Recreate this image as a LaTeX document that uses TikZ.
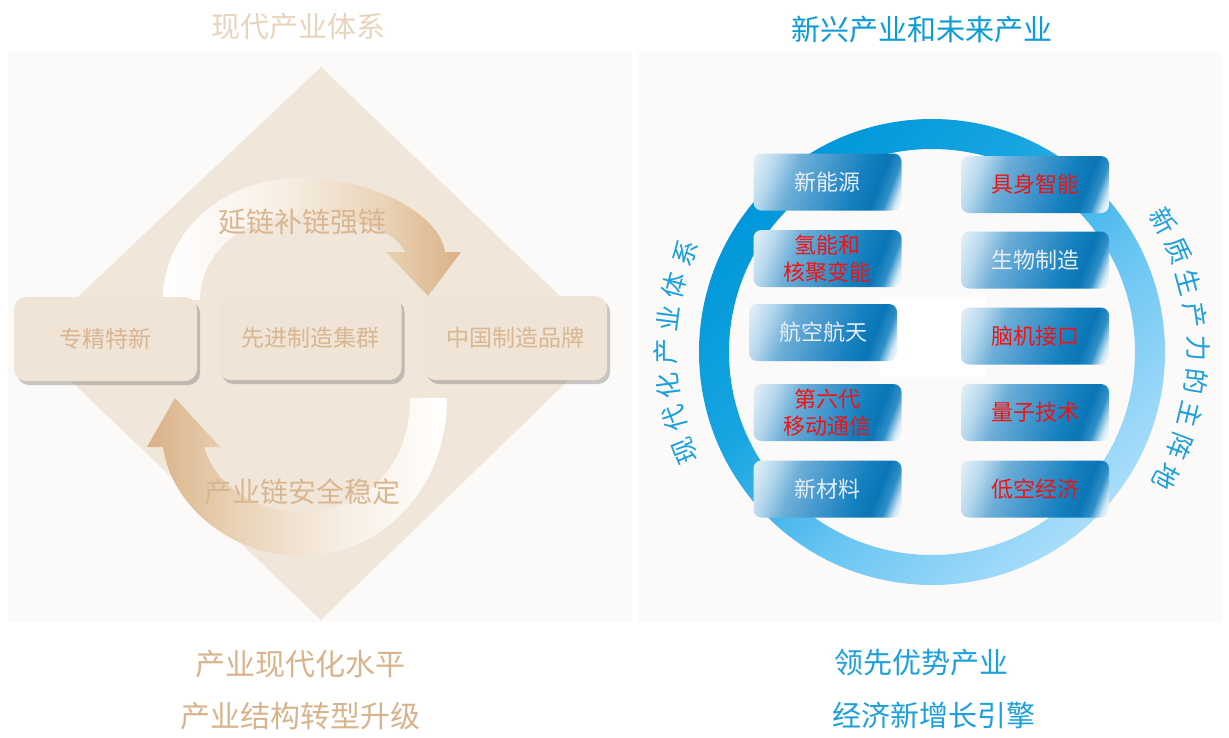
\documentclass[tikz,border=0pt]{standalone}
\usepackage{fontspec}
\newfontfamily\cjk{Noto Sans CJK SC}
\usetikzlibrary{shadows}
\definecolor{panelbg}{HTML}{FBFAF8}
\definecolor{diam}{HTML}{F0E6DA}
\definecolor{lboxfill}{HTML}{EFE4D6}
\definecolor{tanTitle}{HTML}{E8D4BC}
\definecolor{tanText}{HTML}{D9B690}
\definecolor{tanBottom}{HTML}{D8B48C}
\definecolor{blueTitle}{HTML}{0B9BD7}
\definecolor{blueText}{HTML}{1BA0DC}
\definecolor{redText}{HTML}{F21212}
\definecolor{whiteText}{HTML}{E6EEF3}
\definecolor{bxA}{HTML}{E4F0F8}
\definecolor{bxB}{HTML}{B5D7EC}
\definecolor{bxC}{HTML}{6EAFD8}
\definecolor{bxD}{HTML}{3F95CB}
\definecolor{bxE}{HTML}{1580BF}
\definecolor{bxF}{HTML}{0A76B6}
\definecolor{bxG}{HTML}{2F8FC8}
\definecolor{bxH}{HTML}{CFE6F3}
\definecolor{ringA}{HTML}{0097DA}
\definecolor{ringB}{HTML}{19A6E2}
\definecolor{ringC}{HTML}{6CC6F3}
\definecolor{ringD}{HTML}{A9DDFA}
\definecolor{bandTan}{HTML}{D9B186}
\definecolor{bandMid}{HTML}{EAD3B7}
\definecolor{bandLight}{HTML}{F7EFE5}
\pgfdeclarehorizontalshading{boxshade}{100bp}{color(0bp)=(bxA); color(18bp)=(bxA); color(27bp)=(bxB); color(36bp)=(bxC); color(50bp)=(bxD); color(62bp)=(bxE); color(70bp)=(bxF); color(75bp)=(bxG); color(79bp)=(bxH); color(82bp)=(white); color(100bp)=(white)}
\pgfdeclarehorizontalshading{ringshade}{100bp}{color(0bp)=(ringA); color(25bp)=(ringA); color(42bp)=(ringB); color(58bp)=(ringC); color(75bp)=(ringD); color(100bp)=(ringD)}
\pgfdeclarehorizontalshading{upband}{100bp}{color(0bp)=(white); color(25bp)=(white); color(45bp)=(bandLight); color(62bp)=(bandMid); color(75bp)=(bandTan); color(100bp)=(bandTan)}
\pgfdeclarehorizontalshading{lowband}{100bp}{color(0bp)=(bandTan); color(25bp)=(bandTan); color(40bp)=(bandMid); color(58bp)=(bandLight); color(75bp)=(white); color(100bp)=(white)}
\begin{document}
\begin{tikzpicture}[x=1pt,y=1pt,
  lbox/.style={rounded corners=12pt, fill=lboxfill, minimum width=183pt, minimum height=84pt,
    drop shadow={shadow xshift=3pt,shadow yshift=-4pt,opacity=0.35,fill=black!60},
    text=tanText, font=\cjk\fontsize{23}{27}\selectfont},
  rbox/.style={rounded corners=8pt, shade, shading=boxshade, shading angle=-21,
    minimum width=148pt, minimum height=57pt, inner sep=0pt, align=center,
    font=\cjk\fontsize{22}{27}\selectfont},
  wtxt/.style={text=whiteText},
  rtxt/.style={text=redText},
  ringtxt/.style={text=blueText, font=\cjk\fontsize{26}{26}\selectfont, inner sep=0pt},
  bigtan/.style={text=tanBottom, font=\cjk\fontsize{30}{30}\selectfont},
  bigblue/.style={text=blueText, font=\cjk\fontsize{29}{29}\selectfont},
  arclabel/.style={text=tanText, font=\cjk\fontsize{28}{28}\selectfont}]
\useasboundingbox (0,0) rectangle (1229,-737);
\fill[white] (0,0) rectangle (1229,-737);
% panels
\fill[panelbg] (8,-52) rectangle (632,-622);
\fill[panelbg] (638,-52) rectangle (1222,-622);
% ---------------- left panel ----------------
\fill[diam] (321,-67) -- (608,-342) -- (321,-620) -- (30,-342) -- cycle;
% upper curved arrow
\shade[shading=upband]
  (163,-300) .. controls (163,-230) and (225,-178) .. (300,-178)
  .. controls (375,-178) and (440,-215) .. (445,-252)
  -- (461,-252) -- (428,-296) -- (386,-252) -- (405,-252)
  .. controls (395,-230) and (355,-216) .. (300,-216)
  .. controls (240,-216) and (200,-255) .. (200,-300) -- cycle;
% lower curved arrow
\shade[shading=lowband]
  (447,-398) .. controls (447,-490) and (380,-556) .. (303,-556)
  .. controls (225,-556) and (170,-500) .. (163,-447)
  -- (147,-447) -- (175,-398) -- (220,-447) -- (204,-447)
  .. controls (215,-485) and (255,-512) .. (303,-512)
  .. controls (360,-512) and (410,-470) .. (410,-398) -- cycle;
\node[arclabel] (up) at (302,-222) {延链补链强链};
\node[arclabel] (down) at (302,-492) {产业链安全稳定};
\node[lbox] (zj) at (105.5,-339) {专精特新};
\node[lbox] (xj) at (310,-338) {先进制造集群};
\node[lbox] (zg) at (515.5,-338) {中国制造品牌};
\node[text=tanTitle, font=\cjk\fontsize{29}{29}\selectfont] (ltitle) at (298,-27) {现代产业体系};
\node[bigtan] (lb1) at (300,-664) {产业现代化水平};
\node[bigtan] (lb2) at (300,-716) {产业结构转型升级};
% ---------------- right panel ----------------
\fill[white] (880,-297) rectangle (985,-377);
\shade[even odd rule, shading=ringshade, shading angle=-45]
  (932,-352) circle (233) (932,-352) circle (203);
\node[rbox, wtxt] (r1) at (827.5,-182) {新能源};
\node[rbox, rtxt] (r2) at (1035,-184.5) {具身智能};
\node[rbox, rtxt] (r3) at (827.5,-258.5) {氢能和\\核聚变能};
\node[rbox, wtxt] (r4) at (1035,-260) {生物制造};
\node[rbox, wtxt] (r5) at (823,-332.5) {航空航天};
\node[rbox, rtxt] (r6) at (1035,-336) {脑机接口};
\node[rbox, rtxt] (r7) at (827.5,-412.5) {第六代\\移动通信};
\node[rbox, rtxt] (r8) at (1035,-412.5) {量子技术};
\node[rbox, wtxt] (r9) at (827.5,-489) {新材料};
\node[rbox, rtxt] (r10) at (1035,-489) {低空经济};
\foreach \c [count=\i from 0] in {现,代,化,产,业,体,系} {
  \pgfmathsetmacro\ang{201.8-\i*7.27}
  \path (932,-352) ++(\ang:266) node[ringtxt, rotate=\ang-90] (lt\i) {\c};
}
\foreach \c [count=\i from 0] in {新,质,生,产,力,的,主,阵,地} {
  \pgfmathsetmacro\ang{29.5-\i*7.19}
  \path (932,-352) ++(\ang:266) node[ringtxt, rotate=\ang-90] (rt\i) {\c};
}
\node[text=blueTitle, font=\cjk\fontsize{29}{29}\selectfont] (rtitle) at (922,-30) {新兴产业和未来产业};
\node[bigblue] (rb1) at (921.5,-663) {领先优势产业};
\node[bigblue] (rb2) at (934,-715) {经济新增长引擎};
\end{tikzpicture}
\end{document}
